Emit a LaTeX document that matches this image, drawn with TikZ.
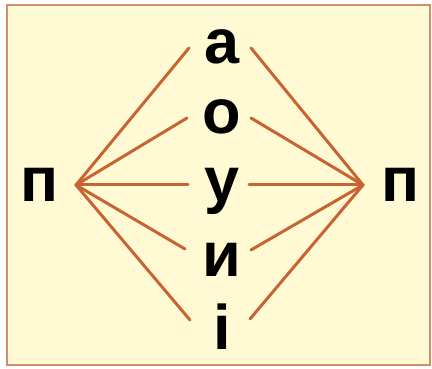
\documentclass[tikz,border=0pt]{standalone}
\usepackage{fontspec}
\setmainfont{Liberation Sans}
\definecolor{cream}{RGB}{255,250,212}
\definecolor{framec}{RGB}{210,140,110}
\definecolor{linec}{RGB}{200,100,50}
\tikzset{
  letter/.style={inner sep=0pt, anchor=base, font=\fontsize{63}{63}\bfseries},
  conn/.style={draw=linec, line width=3pt, line cap=round},
  frame/.style={draw=framec, fill=cream, line width=2pt}
}
\begin{document}
\begin{tikzpicture}[x=1pt,y=1pt]
\useasboundingbox (0,0) rectangle (432,369);
\fill[white] (0,0) rectangle (432,369);
\draw[frame] (7,4) rectangle (430,364);
% letters
\node[letter] (pl) at (40,167) {п};
\node[letter] (pr) at (401,167) {п};
\node[letter] (a) at (222,305) {а};
\node[letter] (o) at (222,235) {о};
\node[letter] (u) at (222,167) {у};
\node[letter] (y) at (222,92) {и};
\node[letter] (i) at (222,19) {і};
% apexes and line ends
\coordinate (L) at (76,184);
\coordinate (R) at (363,184);
\coordinate (aL) at (189,321); \coordinate (aR) at (251,321);
\coordinate (oL) at (187,251); \coordinate (oR) at (251,251);
\coordinate (uL) at (188,184); \coordinate (uR) at (249,184);
\coordinate (yL) at (185,120); \coordinate (yR) at (251,119);
\coordinate (iL) at (190,49);  \coordinate (iR) at (250,50);
\foreach \k in {a,o,u,y,i}{
  \draw[conn] (L) -- (\k L);
  \draw[conn] (R) -- (\k R);
}
\end{tikzpicture}
\end{document}
